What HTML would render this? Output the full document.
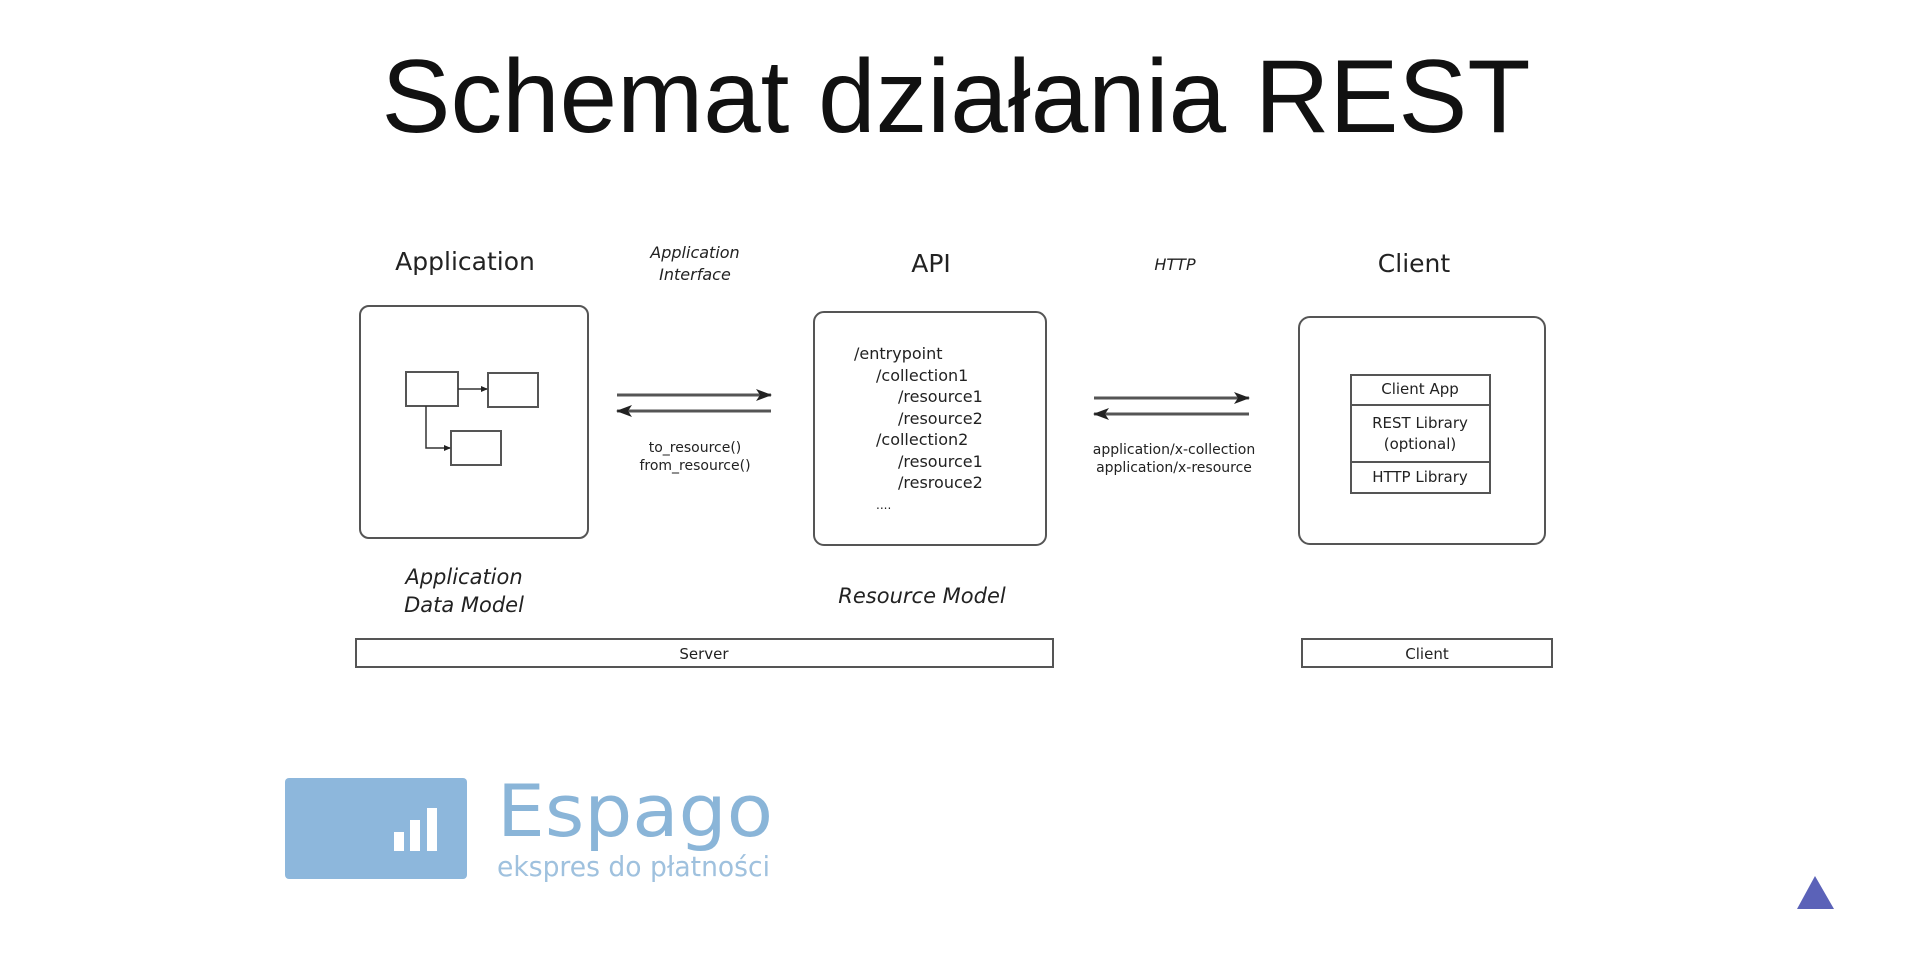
<!DOCTYPE html>
<html><head><meta charset="utf-8"><style>
html,body{margin:0;padding:0;background:#fff;}
svg{display:block;}
</style></head><body>
<svg width="1913" height="965" viewBox="0 0 1913 965" xmlns="http://www.w3.org/2000/svg">
<defs>
<marker id="ah" markerWidth="16" markerHeight="12" refX="15" refY="6" orient="auto" markerUnits="userSpaceOnUse">
<path d="M0,0 L16,6 L0,12 L4,6 Z" fill="#222"/></marker>
<marker id="sa" markerWidth="7" markerHeight="6" refX="6" refY="3" orient="auto" markerUnits="userSpaceOnUse">
<path d="M0,0 L7,3 L0,6 Z" fill="#222"/></marker>
</defs>
<text x="956" y="132" text-anchor="middle" font-family="Liberation Sans, sans-serif" font-size="104" fill="#111" textLength="1149" lengthAdjust="spacingAndGlyphs">Schemat działania REST</text>

<g font-family="DejaVu Sans, sans-serif" fill="#222">
<text x="465" y="270" text-anchor="middle" font-size="25">Application</text>
<text x="931" y="272" text-anchor="middle" font-size="25">API</text>
<text x="1414" y="272" text-anchor="middle" font-size="25">Client</text>
<text x="695" y="258" text-anchor="middle" font-size="16" font-style="italic">Application</text>
<text x="695" y="280" text-anchor="middle" font-size="16" font-style="italic">Interface</text>
<text x="1175" y="270" text-anchor="middle" font-size="16" font-style="italic">HTTP</text>
<text x="464" y="584" text-anchor="middle" font-size="21" font-style="italic">Application</text>
<text x="464" y="612" text-anchor="middle" font-size="21" font-style="italic">Data Model</text>
<text x="922" y="603" text-anchor="middle" font-size="21" font-style="italic">Resource Model</text>
<text x="695" y="452" text-anchor="middle" font-size="14">to_resource()</text>
<text x="695" y="470" text-anchor="middle" font-size="14">from_resource()</text>
<text x="1174" y="454" text-anchor="middle" font-size="14">application/x-collection</text>
<text x="1174" y="472" text-anchor="middle" font-size="14">application/x-resource</text>
<g font-size="16">
<text x="854" y="359">/entrypoint</text>
<text x="876" y="381">/collection1</text>
<text x="898" y="402">/resource1</text>
<text x="898" y="424">/resource2</text>
<text x="876" y="445">/collection2</text>
<text x="898" y="467">/resource1</text>
<text x="898" y="488">/resrouce2</text>
<text x="876" y="509" font-size="12">....</text>
</g>
</g>

<g fill="none" stroke="#555" stroke-width="2">
<rect x="360" y="306" width="228" height="232" rx="9"/>
<rect x="814" y="312" width="232" height="233" rx="10"/>
<rect x="1299" y="317" width="246" height="227" rx="11"/>
<rect x="406" y="372" width="52" height="34"/>
<rect x="488" y="373" width="50" height="34"/>
<rect x="451" y="431" width="50" height="34"/>
<rect x="1351" y="375" width="139" height="118"/>
<line x1="1351" y1="405" x2="1490" y2="405"/>
<line x1="1351" y1="462" x2="1490" y2="462"/>
<rect x="356" y="639" width="697" height="28"/>
<rect x="1302" y="639" width="250" height="28"/>
</g>
<g stroke="#333" stroke-width="1.5" fill="none">
<line x1="458" y1="389" x2="487" y2="389" marker-end="url(#sa)"/>
<polyline points="426,406 426,448 450,448" marker-end="url(#sa)"/>
</g>
<g stroke="#555" stroke-width="3" fill="none">
<line x1="617" y1="395" x2="771" y2="395" marker-end="url(#ah)"/>
<line x1="771" y1="411" x2="617" y2="411" marker-end="url(#ah)"/>
<line x1="1094" y1="398" x2="1249" y2="398" marker-end="url(#ah)"/>
<line x1="1249" y1="414" x2="1094" y2="414" marker-end="url(#ah)"/>
</g>
<g font-family="DejaVu Sans, sans-serif" fill="#222" font-size="15" text-anchor="middle">
<text x="1420" y="394">Client App</text>
<text x="1420" y="428">REST Library</text>
<text x="1420" y="449">(optional)</text>
<text x="1420" y="482">HTTP Library</text>
<text x="704" y="659">Server</text>
<text x="1427" y="659">Client</text>
</g>

<rect x="285" y="778" width="182" height="101" rx="4" fill="#8db7dc"/>
<rect x="394" y="832" width="10" height="19" fill="#fff"/>
<rect x="410" y="820" width="10" height="31" fill="#fff"/>
<rect x="427" y="808" width="10" height="43" fill="#fff"/>
<text x="497" y="836" font-family="DejaVu Sans, sans-serif" font-size="72" fill="#8ab5d8" textLength="276" lengthAdjust="spacingAndGlyphs">Espago</text>
<text x="497" y="876" font-family="DejaVu Sans, sans-serif" font-size="28" fill="#9fc1de" textLength="273" lengthAdjust="spacingAndGlyphs">ekspres do płatności</text>

<polygon points="1815,876 1834,909 1797,909" fill="#5b62b8"/>
</svg>
</body></html>
